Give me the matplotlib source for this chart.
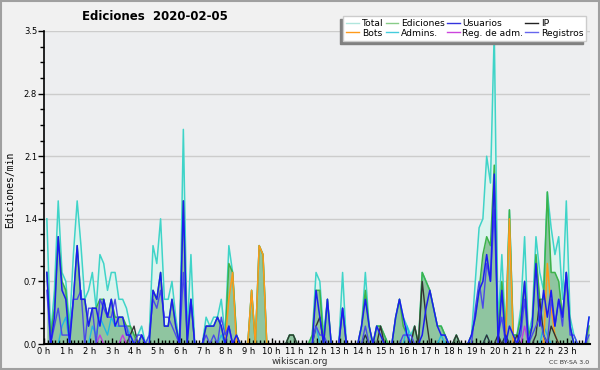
import numpy as np
import matplotlib
matplotlib.use("Agg")
import matplotlib.pyplot as plt
from matplotlib.lines import Line2D
from matplotlib.patches import Rectangle

# values per 10-minute slot (edits/min), 6 slots per hour
total = [1.4, 0.1, 0.6, 1.6, 0.8, 0.7,
         0.2, 1.0, 1.6, 1.1, 0.5, 0.6,
         0.8, 0.4, 1.0, 0.9, 0.6, 0.8,
         0.8, 0.5, 0.5, 0.4, 0.2, 0.1,
         0.1, 0.2, 0.0, 0.1, 1.1, 0.9,
         1.4, 0.5, 0.5, 0.7, 0.3, 0.0,
         2.4, 0.1, 1.0, 0.0, 0.0, 0.0,
         0.3, 0.2, 0.3, 0.3, 0.5, 0.1,
         1.1, 0.8, 0.1, 0.0, 0.0, 0.0,
         0.6, 0.0, 1.1, 1.0, 0.0, 0.0,
         0.0, 0.0, 0.0, 0.0, 0.1, 0.1,
         0.0, 0.0, 0.0, 0.0, 0.1, 0.8,
         0.7, 0.1, 0.5, 0.0, 0.0, 0.0,
         0.8, 0.0, 0.0, 0.0, 0.0, 0.2,
         0.8, 0.2, 0.0, 0.2, 0.2, 0.1,
         0.0, 0.0, 0.3, 0.5, 0.3, 0.2,
         0.1, 0.2, 0.0, 0.8, 0.7, 0.6,
         0.4, 0.2, 0.2, 0.1, 0.0, 0.0,
         0.1, 0.0, 0.0, 0.0, 0.1, 0.7,
         1.3, 1.4, 2.1, 1.8, 3.5, 0.2,
         1.0, 0.1, 1.5, 0.1, 0.1, 0.4,
         1.2, 0.1, 0.3, 1.2, 0.8, 0.6,
         1.7, 1.3, 1.0, 1.2, 0.5, 1.6,
         0.3, 0.1, 0.0, 0.0, 0.0, 0.3]

ediciones = [0.8, 0.1, 0.4, 1.2, 0.7, 0.6,
             0.1, 0.5, 1.1, 0.5, 0.5, 0.2,
             0.4, 0.4, 0.5, 0.5, 0.3, 0.5,
             0.3, 0.3, 0.3, 0.2, 0.2, 0.1,
             0.0, 0.1, 0.0, 0.0, 0.6, 0.5,
             0.8, 0.2, 0.2, 0.5, 0.2, 0.0,
             1.6, 0.0, 0.5, 0.0, 0.0, 0.0,
             0.2, 0.2, 0.2, 0.3, 0.2, 0.0,
             0.9, 0.8, 0.1, 0.0, 0.0, 0.0,
             0.6, 0.0, 1.1, 1.0, 0.0, 0.0,
             0.0, 0.0, 0.0, 0.0, 0.1, 0.1,
             0.0, 0.0, 0.0, 0.0, 0.1, 0.6,
             0.6, 0.0, 0.5, 0.0, 0.0, 0.0,
             0.4, 0.0, 0.0, 0.0, 0.0, 0.2,
             0.6, 0.2, 0.0, 0.2, 0.2, 0.1,
             0.0, 0.0, 0.3, 0.5, 0.2, 0.1,
             0.0, 0.2, 0.0, 0.8, 0.7, 0.6,
             0.4, 0.2, 0.2, 0.1, 0.0, 0.0,
             0.1, 0.0, 0.0, 0.0, 0.1, 0.3,
             0.6, 1.0, 1.2, 1.1, 2.0, 0.1,
             0.7, 0.1, 1.5, 0.1, 0.1, 0.3,
             0.7, 0.1, 0.2, 1.0, 0.5, 0.5,
             1.7, 0.8, 0.8, 0.7, 0.3, 0.8,
             0.2, 0.0, 0.0, 0.0, 0.0, 0.2]

usuarios = [0.8, 0.0, 0.3, 1.2, 0.6, 0.5,
            0.0, 0.5, 1.1, 0.5, 0.5, 0.2,
            0.4, 0.4, 0.2, 0.5, 0.3, 0.5,
            0.2, 0.3, 0.3, 0.1, 0.1, 0.0,
            0.0, 0.1, 0.0, 0.0, 0.6, 0.5,
            0.8, 0.2, 0.2, 0.5, 0.2, 0.0,
            1.6, 0.0, 0.5, 0.0, 0.0, 0.0,
            0.2, 0.2, 0.2, 0.3, 0.2, 0.0,
            0.2, 0.0, 0.1, 0.0, 0.0, 0.0,
            0.0, 0.0, 0.0, 0.0, 0.0, 0.0,
            0.0, 0.0, 0.0, 0.0, 0.0, 0.0,
            0.0, 0.0, 0.0, 0.0, 0.0, 0.6,
            0.3, 0.0, 0.5, 0.0, 0.0, 0.0,
            0.4, 0.0, 0.0, 0.0, 0.0, 0.2,
            0.5, 0.2, 0.0, 0.2, 0.1, 0.0,
            0.0, 0.0, 0.3, 0.5, 0.3, 0.1,
            0.0, 0.0, 0.0, 0.1, 0.4, 0.6,
            0.4, 0.2, 0.1, 0.1, 0.0, 0.0,
            0.0, 0.0, 0.0, 0.0, 0.1, 0.3,
            0.6, 0.7, 1.0, 0.7, 1.9, 0.0,
            0.6, 0.0, 0.2, 0.1, 0.0, 0.2,
            0.7, 0.0, 0.2, 0.9, 0.2, 0.6,
            0.3, 0.6, 0.2, 0.5, 0.3, 0.8,
            0.2, 0.0, 0.0, 0.0, 0.0, 0.3]

ip = [0.0] * 144
for k, v in {22: 0.1, 23: 0.2, 64: 0.1, 65: 0.1, 71: 0.2, 72: 0.3, 84: 0.1,
             88: 0.2, 97: 0.2, 99: 0.7, 100: 0.3, 108: 0.1, 116: 0.1, 119: 0.1,
             121: 0.1, 124: 0.1, 129: 0.1, 130: 0.5, 131: 0.1, 133: 0.2,
             134: 0.1}.items():
    ip[k] = v

bots = [0.0] * 144
for k, v in {48: 0.5, 49: 0.8, 54: 0.6, 56: 1.1, 57: 1.0, 122: 1.4,
             132: 0.9, 133: 0.4, 134: 0.1}.items():
    bots[k] = v

admins = [0.0] * 144
for k, v in {4: 0.2, 5: 0.3, 12: 0.2, 13: 0.1, 14: 0.3, 15: 0.2, 16: 0.1,
             17: 0.3, 18: 0.2, 19: 0.2, 20: 0.2, 21: 0.2, 22: 0.1, 46: 0.1,
             71: 0.2, 84: 0.1, 95: 0.2, 104: 0.1, 116: 0.1, 121: 0.1,
             131: 0.2, 132: 0.1}.items():
    admins[k] = v

reg_adm = [0.0] * 144
for k, v in {14: 0.1, 20: 0.1, 126: 0.2}.items():
    reg_adm[k] = v

registros = [0.6, 0.0, 0.2, 0.4, 0.1, 0.1,
             0.1, 0.5, 0.5, 0.6, 0.0, 0.4,
             0.4, 0.0, 0.5, 0.4, 0.3, 0.3,
             0.5, 0.2, 0.2, 0.2, 0.0, 0.0,
             0.1, 0.1, 0.0, 0.1, 0.5, 0.4,
             0.6, 0.3, 0.3, 0.2, 0.1, 0.0,
             0.8, 0.1, 0.5, 0.0, 0.0, 0.0,
             0.1, 0.0, 0.1, 0.0, 0.3, 0.1,
             0.2, 0.0, 0.0, 0.0, 0.0, 0.0,
             0.0, 0.0, 0.0, 0.0, 0.0, 0.0,
             0.0, 0.0, 0.0, 0.0, 0.0, 0.0,
             0.0, 0.0, 0.0, 0.0, 0.0, 0.2,
             0.1, 0.1, 0.0, 0.0, 0.0, 0.0,
             0.4, 0.0, 0.0, 0.0, 0.0, 0.0,
             0.2, 0.0, 0.0, 0.0, 0.0, 0.0,
             0.0, 0.0, 0.0, 0.0, 0.1, 0.1,
             0.1, 0.0, 0.0, 0.0, 0.0, 0.0,
             0.0, 0.0, 0.0, 0.0, 0.0, 0.0,
             0.0, 0.0, 0.0, 0.0, 0.0, 0.4,
             0.7, 0.4, 0.9, 0.7, 1.5, 0.1,
             0.3, 0.0, 0.0, 0.0, 0.0, 0.1,
             0.5, 0.0, 0.1, 0.2, 0.3, 0.1,
             0.0, 0.5, 0.2, 0.5, 0.2, 0.8,
             0.1, 0.1, 0.0, 0.0, 0.0, 0.1]

hour_labels = ["%d h" % h for h in range(24)]
y_ticks = [0.0, 0.7, 1.4, 2.1, 2.8, 3.5]

x = (np.arange(144) + 0.75) / 6.0

fig = plt.figure(figsize=(6, 3.7), dpi=100, facecolor="#f1f1f1")
fig.patches.append(Rectangle((0.002, 0.003), 0.996, 0.994, transform=fig.transFigure,
                             fill=False, edgecolor="#a0a0a0", lw=1.5))
ax = fig.add_axes([44 / 600, 26 / 370, 546 / 600, 313 / 370])
ax.set_facecolor("#edeef0")

# grid under the data, ticks above it
for v in y_ticks[1:]:
    ax.axhline(v, color="#cccccc", lw=1, zorder=0.5)

ax.fill_between(x, total, color="#dcf3ee", lw=0)
ax.plot(x, total, color="#3fd4c8", lw=1.1)
ax.fill_between(x, ediciones, color="#8fc5a0", lw=0)
ax.plot(x, ediciones, color="#3cb34a", lw=1.1)
ax.plot(x, admins, color="#22b8e0", lw=1.0)
ax.plot(x, reg_adm, color="#c03ce0", lw=1.0)
ax.plot(x, bots, color="#ff9a1a", lw=1.1)
ax.plot(x, ip, color="#333333", lw=1.0)
ax.plot(x, registros, color="#4a4ae8", lw=1.0)
ax.plot(x, usuarios, color="#1c1cf0", lw=1.1)

ax.set_xlim(0, 24)
ax.set_ylim(0, 3.5)
ax.set_xticks(range(24))
ax.set_xticklabels(hour_labels, fontsize=6)
ax.set_xticks(np.arange(0, 24, 1 / 6), minor=True)
ax.set_yticks(y_ticks)
ax.set_yticklabels(["%.1f" % v for v in y_ticks], fontsize=6)
ax.set_yticks(np.arange(0, 3.5, 0.175), minor=True)
ax.tick_params(axis="x", which="major", direction="in", length=4, width=1, pad=2)
ax.tick_params(axis="x", which="minor", direction="in", length=3, width=1)
ax.tick_params(axis="y", which="major", length=4, width=1, pad=1)
ax.tick_params(axis="y", which="minor", length=3, width=1)
for s in ["top", "right"]:
    ax.spines[s].set_visible(False)
ax.spines["left"].set_linewidth(1.2)
ax.spines["bottom"].set_linewidth(1.5)

fig.text(155 / 600, 1 - 16 / 370, "Ediciones  2020-02-05", fontsize=8.5,
         fontweight="bold", ha="center", va="center")
fig.text(10 / 600, 1 - 190 / 370, "Ediciones/min", fontsize=7, rotation=90,
         ha="center", va="center", family="DejaVu Sans Mono")
fig.text(300 / 600, 1 - 361 / 370, "wikiscan.org", fontsize=6.5, ha="center",
         va="center", color="#333333")
fig.text(589 / 600, 1 - 362 / 370, "CC BY-SA 3.0", fontsize=4.5, ha="right",
         va="center", color="#333333")

handles = [Line2D([], [], color=c, lw=1) for c in
           ["#b0e6dd", "#ff9a1a", "#88cc88", "#44ccdd",
            "#3333dd", "#cc44dd", "#222222", "#6666ee"]]
names = ["Total", "Bots", "Ediciones", "Admins.",
         "Usuarios", "Reg. de adm.", "IP", "Registros"]
leg = fig.legend(handles, names, ncol=4, loc="upper right",
                 bbox_to_anchor=(591 / 600, 1 - 11 / 370), fontsize=6.6,
                 handlelength=1.4, handletextpad=0.3, columnspacing=0.2,
                 labelspacing=0.1, borderpad=0.35, fancybox=False,
                 shadow={"ox": -2.5, "oy": -2.5, "color": "#808080", "alpha": 1},
                 framealpha=1, edgecolor="#cccccc")

fig.savefig("out.png", dpi=100, facecolor=fig.get_facecolor())
